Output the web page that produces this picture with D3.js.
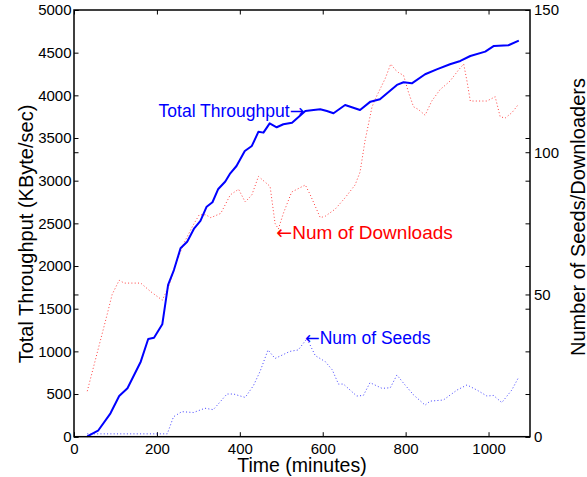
<!DOCTYPE html>
<html lang="en">
<head>
<meta charset="UTF-8">
<title>Total Throughput</title>
<script src="https://d3js.org/d3.v7.min.js"></script>
<style>
    body { margin: 0; background: #fff; }
    svg { display: block; font-family: "Liberation Sans", Arial, Helvetica, sans-serif; }
    .tick line { stroke: #000; stroke-width: 1; }
    .domain { display: none; }
    .arrow { font-family: "DejaVu Sans", sans-serif; }
</style>
</head>
<body>
<svg width="587" height="477"></svg>
<script>
// throughput (left axis, KByte/sec)
var tpTime = [32, 58, 88, 109, 129, 161, 179, 193, 213, 227, 241, 257, 273, 290, 305, 320, 334, 348, 365, 377,
    392, 412, 429, 445, 457, 472, 489, 505, 526, 558, 578, 594, 610, 626, 654, 690, 715, 738, 779, 795,
    815, 847, 875, 907, 932, 956, 992, 1013, 1048, 1073];
var tpValue = [5, 70, 274, 477, 567, 879, 1145, 1160, 1317, 1778, 1953, 2208, 2285, 2442, 2528, 2695, 2747, 2903, 2990, 3086,
    3172, 3348, 3407, 3574, 3563, 3672, 3626, 3661, 3680, 3817, 3829, 3837, 3817, 3790, 3887, 3829, 3926, 3954, 4122, 4153,
    4141, 4247, 4305, 4364, 4403, 4461, 4512, 4579, 4587, 4641];

// number of downloaders (right axis)
var dlTime = [32, 48, 64, 80, 92, 109, 121, 161, 185, 213, 229, 249, 265, 286, 302, 318, 330, 354, 377, 397,
    413, 429, 445, 473, 485, 493, 505, 525, 558, 570, 594, 606, 630, 654, 678, 690, 702, 719, 731, 751,
    764, 775, 783, 795, 807, 819, 831, 847, 863, 883, 907, 928, 940, 948, 956, 996, 1016, 1028, 1040, 1057, 1073];
var dlValue = [16, 25, 34, 43, 50, 55, 54, 54, 51, 48, 53, 62, 68, 74, 78, 78, 77, 78.5, 85, 87,
    82.5, 85, 91.5, 88, 75, 73, 78.5, 86, 88.5, 85, 77, 77.5, 80, 84, 88.5, 93, 104, 116, 120, 126,
    131, 129, 128, 127, 121, 116, 115, 113, 118, 122, 125, 129, 131, 125, 118, 118, 119.5, 112.5, 112, 114, 117];

// number of seeds (right axis)
var sdTime = [32, 225, 240, 260, 288, 316, 336, 369, 385, 413, 433, 449, 468, 485, 521, 541, 562, 582, 606, 623,
    638, 650, 682, 698, 714, 743, 763, 779, 795, 819, 847, 859, 891, 924, 948, 972, 996, 1012, 1032, 1056, 1073];
var sdValue = [1, 1, 7, 8.8, 8.5, 10, 9.5, 15, 15, 13.8, 18, 23, 30.5, 27.5, 30, 30.5, 34.5, 28.5, 26.4, 23.5,
    18.5, 18.5, 14.3, 14.5, 19, 17, 17.2, 21.7, 18.8, 14.7, 11.1, 12.5, 12.9, 16.4, 18.2, 16.4, 14.3, 14.5, 12, 16.4, 21];

var xTicks = [0, 200, 400, 600, 800, 1000];
var yLeftTicks = [0, 500, 1000, 1500, 2000, 2500, 3000, 3500, 4000, 4500, 5000];
var yRightTicks = [0, 50, 100, 150];

var svg = d3.select('svg'),
    plotLeft = 74, plotRight = 530, plotTop = 10, plotBottom = 436.7,
    tick = 4.5,
    fmt = d3.format('d');

var x = d3.scaleLinear().domain([0, 1100]).range([plotLeft, plotRight]);
var yL = d3.scaleLinear().domain([0, 5000]).range([plotBottom, plotTop]);
var yR = d3.scaleLinear().domain([0, 150]).range([plotBottom, plotTop]);

var zip = function(t, v) {
    return t.map(function(d, i) { return [d, v[i]]; });
};

var lineL = d3.line().x(function(d) { return x(d[0]); }).y(function(d) { return yL(d[1]); });
var lineR = d3.line().x(function(d) { return x(d[0]); }).y(function(d) { return yR(d[1]); });

var addAxis = function(axis, tx, ty) {
    return svg.append('g')
        .attr('transform', 'translate(' + tx + ',' + ty + ')')
        .call(axis)
        .attr('font-size', 15)
        .attr('font-family', null)
        .call(function(g) { g.selectAll('.tick text').attr('fill', '#000'); });
};

// axes: ticks point inward, every tick set shows on both sides
addAxis(d3.axisBottom(x).tickValues(xTicks).tickSize(-tick).tickPadding(7).tickFormat(fmt), 0, plotBottom);
addAxis(d3.axisTop(x).tickValues(xTicks).tickSize(-tick).tickFormat(''), 0, plotTop);

addAxis(d3.axisLeft(yL).tickValues(yLeftTicks).tickSize(-tick).tickPadding(2.5).tickFormat(fmt), plotLeft, 0);
addAxis(d3.axisLeft(yR).tickValues(yRightTicks).tickSize(-tick).tickFormat(''), plotLeft, 0);

addAxis(d3.axisRight(yR).tickValues(yRightTicks).tickSize(-tick).tickPadding(4).tickFormat(fmt), plotRight, 0);
addAxis(d3.axisRight(yL).tickValues(yLeftTicks).tickSize(-tick).tickFormat(''), plotRight, 0);

// lines
svg.append('path')
    .datum(zip(dlTime, dlValue))
    .attr('d', lineR)
    .attr('fill', 'none')
    .attr('stroke', '#ff0000')
    .attr('stroke-opacity', 0.75)
    .attr('stroke-width', 1)
    .attr('stroke-dasharray', '1,2.3');

svg.append('path')
    .datum(zip(sdTime, sdValue))
    .attr('d', lineR)
    .attr('fill', 'none')
    .attr('stroke', '#0000ff')
    .attr('stroke-opacity', 0.75)
    .attr('stroke-width', 1)
    .attr('stroke-dasharray', '1,2.3');

svg.append('path')
    .datum(zip(tpTime, tpValue))
    .attr('d', lineL)
    .attr('fill', 'none')
    .attr('stroke', '#0000ff')
    .attr('stroke-width', 2)
    .attr('stroke-linejoin', 'round');

// frame
svg.append('rect')
    .attr('x', plotLeft).attr('y', plotTop)
    .attr('width', plotRight - plotLeft).attr('height', plotBottom - plotTop)
    .attr('fill', 'none')
    .attr('stroke', '#000')
    .attr('stroke-width', 1.5);

// annotations, anchored on the data they point at
var note = function(px, py, size, color, anchor, parts) {
    var t = svg.append('text')
        .attr('x', px).attr('y', py)
        .attr('text-anchor', anchor)
        .attr('fill', color)
        .style('font-size', size + 'px');
    parts.forEach(function(p) {
        t.append('tspan').attr('class', p === '\u2192' || p === '\u2190' ? 'arrow' : null).text(p);
    });
};

note(x(558) - 1, yL(3817) + 6, 17.5, '#0000ff', 'end', ['Total Throughput', '\u2192']);
note(x(493) - 2, yR(73) + 10, 19, '#ff0000', 'start', ['\u2190', 'Num of Downloads']);
note(x(562) - 2, yR(34.5) + 5.5, 17.5, '#0000ff', 'start', ['\u2190', 'Num of Seeds']);

// axis labels
svg.append('text')
    .attr('x', (plotLeft + plotRight) / 2).attr('y', 472)
    .attr('text-anchor', 'middle')
    .style('font-size', '19.5px')
    .text('Time (minutes)');

svg.append('text')
    .attr('transform', 'translate(33,234) rotate(-90)')
    .attr('text-anchor', 'middle')
    .style('font-size', '20px')
    .text('Total Throughput (KByte/sec)');

svg.append('text')
    .attr('transform', 'translate(585,217) rotate(-90)')
    .attr('text-anchor', 'middle')
    .style('font-size', '20px')
    .text('Number of Seeds/Downloaders');
</script>
</body>
</html>
